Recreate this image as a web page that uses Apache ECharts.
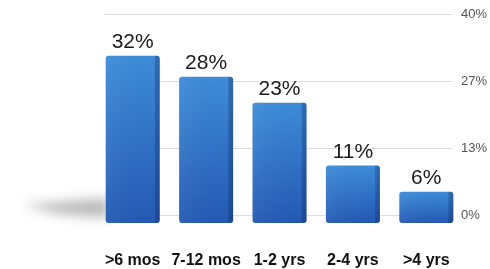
<!DOCTYPE html>
<html>
<head>
<meta charset="utf-8">
<script src="https://cdn.jsdelivr.net/npm/echarts@6/dist/echarts.min.js"></script>
<style>html,body{margin:0;padding:0;background:#fff}#c{width:490px;height:269px}</style>
</head>
<body>
<div id="c"></div>
<script>
var categories = ['>6 mos', '7-12 mos', '1-2 yrs', '2-4 yrs', '>4 yrs'];
var values = [32, 28, 23, 11, 6];
var tickLabels = ['0%', '13%', '27%', '40%'];
var axisMax = 40;

var FONT = '"Liberation Sans", Arial, Helvetica, sans-serif';
var chart = echarts.init(document.getElementById('c'), null, {renderer: 'canvas'});
var step = axisMax / (tickLabels.length - 1);
var OFF = 1000;

chart.setOption({
  animation: false,
  backgroundColor: '#ffffff',
  grid: [
    {left: 105, right: 35, top: 14, bottom: 54},
    {left: 96, right: 27, top: 14, bottom: 46}
  ],
  graphic: [{
    type: 'polygon',
    z: 0,
    x: -OFF,
    shape: {points: [[22, 205], [108, 198], [108, 218], [60, 214]]},
    style: {
      fill: '#000',
      shadowBlur: 12,
      shadowOffsetX: OFF,
      shadowColor: 'rgba(0,0,0,0.28)'
    }
  }],
  xAxis: [
    {gridIndex: 0, type: 'category', data: categories, show: false},
    {gridIndex: 1, type: 'category', data: categories,
     axisLine: {show: false}, axisTick: {show: false},
     axisLabel: {margin: 30, fontSize: 16, fontWeight: 'bold', color: '#111', fontFamily: FONT, interval: 0}}
  ],
  yAxis: [
    {gridIndex: 0, type: 'value', position: 'right', min: 0, max: axisMax, interval: step,
     axisLine: {show: false}, axisTick: {show: false},
     splitLine: {lineStyle: {color: '#dedede', width: 1}},
     axisLabel: {margin: 8, fontSize: 13, color: '#555', fontFamily: FONT,
       formatter: function (v) { return tickLabels[Math.round(v / step)]; }}},
    {gridIndex: 1, type: 'value', min: 0, max: axisMax, show: false}
  ],
  series: [
    {
      type: 'bar', xAxisIndex: 1, yAxisIndex: 1, data: values, barWidth: 54, z: 3,
      itemStyle: {
        borderRadius: 3,
        color: {type: 'linear', x: 0, y: 0, x2: 0, y2: 1, colorStops: [
          {offset: 0, color: '#3d8cd9'},
          {offset: 1, color: '#2459b3'}
        ]}
      },
      label: {show: true, position: 'top', distance: 3, fontSize: 21, color: '#1a1a1a', fontFamily: FONT,
        formatter: function (p) { return p.value + '%'; }}
    },
    {
      type: 'bar', xAxisIndex: 1, yAxisIndex: 1, data: values, barWidth: 54, barGap: '-100%', z: 4,
      silent: true,
      itemStyle: {
        borderRadius: 3,
        color: {type: 'linear', x: 0, y: 0, x2: 1, y2: 0, colorStops: [
          {offset: 0, color: 'rgba(255,255,255,0.05)'},
          {offset: 0.9, color: 'rgba(0,0,0,0)'},
          {offset: 0.92, color: 'rgba(10,30,80,0.25)'},
          {offset: 1, color: 'rgba(10,30,80,0.35)'}
        ]}
      }
    }
  ]
});
</script>
</body>
</html>
